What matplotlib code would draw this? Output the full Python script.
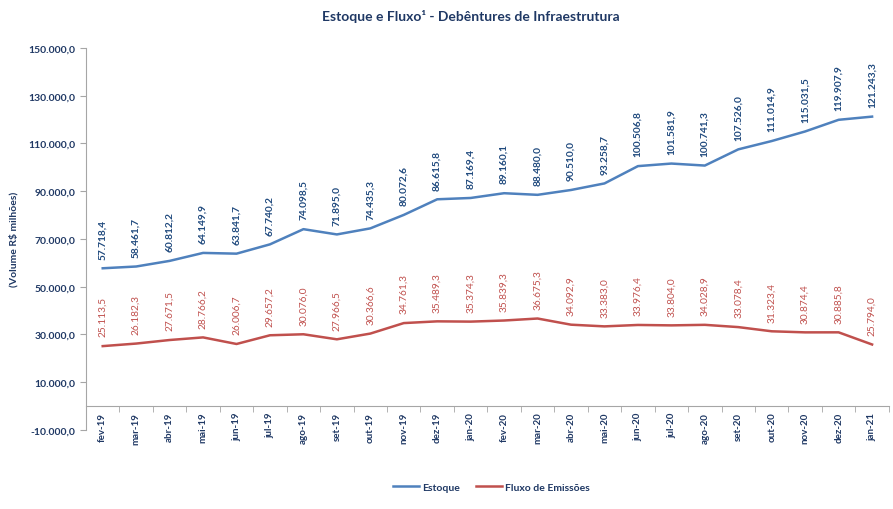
import matplotlib.pyplot as plt
import numpy as np
from matplotlib.ticker import FuncFormatter, FixedLocator

plt.rcParams['font.family'] = ['Lato', 'DejaVu Sans']

# data
meses = ["fev-19", "mar-19", "abr-19", "mai-19", "jun-19", "jul-19", "ago-19", "set-19",
         "out-19", "nov-19", "dez-19", "jan-20", "fev-20", "mar-20", "abr-20", "mai-20",
         "jun-20", "jul-20", "ago-20", "set-20", "out-20", "nov-20", "dez-20", "jan-21"]
estoque = [57718.4, 58461.7, 60812.2, 64149.9, 63841.7, 67740.2, 74098.5, 71895.0,
           74435.3, 80072.6, 86615.8, 87169.4, 89160.1, 88480.0, 90510.0, 93258.7,
           100506.8, 101581.9, 100741.3, 107526.0, 111014.9, 115031.5, 119907.9, 121243.3]
fluxo = [25113.5, 26182.3, 27671.5, 28766.2, 26006.7, 29657.2, 30076.0, 27966.5,
         30366.6, 34761.3, 35489.3, 35374.3, 35839.3, 36675.3, 34092.9, 33383.0,
         33976.4, 33804.0, 34028.9, 33078.4, 31323.4, 30874.4, 30885.8, 25794.0]

azul = "#4F81BD"
vermelho = "#C0504D"
navy = "#1F3864"


def br(v, dec=1):
    s = f"{v:,.{dec}f}"
    return s.replace(",", "X").replace(".", ",").replace("X", ".")


fig = plt.figure(figsize=(8.93, 5.10), dpi=100)
ax = fig.add_axes([0.0963, 0.155, 0.899, 0.749])

# spine position first (it resets the ticks)
for s in ["top", "right"]:
    ax.spines[s].set_visible(False)
ax.spines["left"].set_color("#A6A6A6")
ax.spines["bottom"].set_color("#A6A6A6")
ax.spines["bottom"].set_position(("data", 0))

x = np.arange(len(meses))
ax.plot(x, estoque, color=azul, lw=1.8, label="Estoque")
ax.plot(x, fluxo, color=vermelho, lw=1.8, label="Fluxo de Emissões")

for xi, v in zip(x, estoque):
    ax.annotate(br(v), (xi, v), xytext=(0, 7), textcoords="offset points",
                rotation=90, ha="center", va="bottom", fontsize=7.3,
                fontweight="bold", color="#1F497D")
for xi, v in zip(x, fluxo):
    ax.annotate(br(v), (xi, v), xytext=(0, 7), textcoords="offset points",
                rotation=90, ha="center", va="bottom", fontsize=7.3,
                color=vermelho)

ax.set_xlim(-0.5, len(meses) - 0.5)
ax.set_ylim(-10000, 150000)
ax.yaxis.set_major_locator(FixedLocator(np.arange(-10000, 150001, 20000)))
ax.yaxis.set_major_formatter(FuncFormatter(lambda v, p: br(v)))
ax.set_xticks(x)
ax.set_xticklabels(meses, rotation=90, rotation_mode="anchor", ha="right", va="center",
                   fontsize=7, fontweight="bold", color=navy)
ax.set_xticks(np.arange(-0.5, len(meses), 1), minor=True)
ax.tick_params(axis="x", which="major", length=0, pad=4)
ax.tick_params(axis="x", which="minor", length=4, color="#A6A6A6")
ax.tick_params(axis="y", length=4, color="#A6A6A6", labelsize=7.5, labelcolor=navy)
for t in ax.get_yticklabels():
    t.set_fontweight("bold")

fig.text(0.015, 0.53, "(Volume R$ milhões)", rotation=90, ha="center", va="center",
         fontsize=7.5, fontweight="bold", color=navy)
fig.text(0.527, 0.968, "Estoque e Fluxo¹ - Debêntures de Infraestrutura", ha="center",
         va="center", fontsize=10, fontweight="bold", color=navy)

leg = fig.legend(loc="center", bbox_to_anchor=(0.55, 0.043), ncol=2, frameon=False,
                 fontsize=7.5, handlelength=2.5, columnspacing=1.5, handletextpad=0.3)
for t in leg.get_texts():
    t.set_color(navy)
    t.set_fontweight("bold")

fig.savefig("out.png", dpi=100)
